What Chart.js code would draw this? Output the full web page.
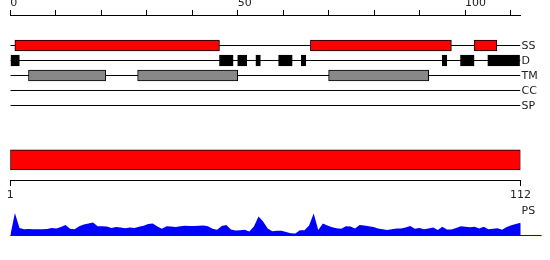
<!DOCTYPE html>
<html><head><meta charset="utf-8">
<script src="https://cdn.jsdelivr.net/npm/chart.js@4/dist/chart.umd.min.js"></script>
<style>html,body{margin:0;padding:0;background:#fff}canvas{display:block}</style>
</head><body>
<canvas id="c" width="550" height="260"></canvas>
<script>
// ---- data ----
const trackNames = ['SS', 'D', 'TM', 'CC', 'SP'];
const ssRegions = [[1, 46], [66, 97], [102, 107]];
const dRegions = [[0, 2], [46, 49], [50, 52], [54, 55], [59, 62], [64, 65], [95, 96], [99, 102], [105, 112]];
const tmRegions = [[4, 21], [28, 50], [70, 92]];
const ccRegions = [];
const spRegions = [];
const seqStart = 1;
const seqEnd = 112;
const topAxisMax = 112.2;
const topTickLabels = [0, 50, 100];
const bottomTickLabels = [1, 112];
const psLabel = 'PS';
const psValues = [
  0, 0.99, 0.33, 0.28, 0.29, 0.28, 0.28, 0.28, 0.29, 0.33,
  0.31, 0.37, 0.46, 0.30, 0.27, 0.41, 0.48, 0.53, 0.57, 0.41,
  0.41, 0.40, 0.33, 0.37, 0.35, 0.32, 0.35, 0.33, 0.38, 0.43,
  0.51, 0.53, 0.40, 0.30, 0.41, 0.40, 0.37, 0.41, 0.43, 0.42,
  0.42, 0.43, 0.44, 0.41, 0.30, 0.25, 0.42, 0.46, 0.26, 0.22,
  0.23, 0.25, 0.18, 0.40, 0.84, 0.62, 0.31, 0.19, 0.21, 0.21,
  0.15, 0.10, 0.09, 0.23, 0.23, 0.44, 0.97, 0.24, 0.53, 0.44,
  0.36, 0.32, 0.30, 0.41, 0.40, 0.31, 0.46, 0.44, 0.41, 0.37,
  0.31, 0.27, 0.24, 0.27, 0.31, 0.31, 0.35, 0.42, 0.30, 0.33,
  0.28, 0.31, 0.35, 0.24, 0.38, 0.26, 0.26, 0.33, 0.41, 0.38,
  0.36, 0.39, 0.31, 0.39, 0.27, 0.30, 0.32, 0.25, 0.37, 0.45,
  0.51, 0.56
];
const psBaselineEnd = 116.6;

// ---- layout / style constants ----
const FONT = "'DejaVu Sans', sans-serif";
const TEXT = '#222';
const ROW_MIN = -2.0333, ROW_MAX = 12.6667;
const SEQ_ROW = 7.63, SEQ_AXIS_ROW = 9, PS_LABEL_ROW = 11;
const PS_MAX = 9.71;
const trackStyles = {
  SS: {regions: ssRegions, color: '#ff0000'},
  D: {regions: dRegions, color: '#000000'},
  TM: {regions: tmRegions, color: '#888888'},
  CC: {regions: ccRegions, color: '#888888'},
  SP: {regions: spRegions, color: '#888888'}
};

const datasets = [];
trackNames.forEach((name, i) => {
  datasets.push({
    type: 'line', indexAxis: 'x', xAxisID: 'x', yAxisID: 'yRow',
    data: [{x: 0, y: i}, {x: topAxisMax, y: i}],
    borderColor: '#000', borderWidth: 1, pointRadius: 0, fill: false, order: 10
  });
  const st = trackStyles[name];
  if (st.regions.length) {
    datasets.push({
      type: 'bar', indexAxis: 'y', xAxisID: 'x', yAxisID: 'yRow',
      data: st.regions.map(r => ({x: r, y: i})),
      backgroundColor: st.color, borderColor: '#000', borderWidth: 1,
      borderSkipped: false, barThickness: 11, grouped: false, order: 1
    });
  }
});
datasets.push({
  type: 'bar', indexAxis: 'y', xAxisID: 'x2', yAxisID: 'yRow',
  data: [{x: [seqStart, seqEnd], y: SEQ_ROW}],
  backgroundColor: '#ff0000', borderColor: '#000', borderWidth: 1,
  borderSkipped: false, barThickness: 20, grouped: false, order: 1
});
datasets.push({
  type: 'line', indexAxis: 'x', xAxisID: 'x2', yAxisID: 'yPS',
  data: psValues.map((v, i) => ({x: seqStart + i, y: v})).concat([{x: seqEnd + 1, y: 0}]),
  fill: 'origin', backgroundColor: '#0000ff', borderColor: '#0000ff', borderWidth: 0,
  pointRadius: 0, tension: 0, clip: false, order: 5
});
datasets.push({
  type: 'line', indexAxis: 'x', xAxisID: 'x2', yAxisID: 'yPS',
  data: [{x: seqStart, y: 0}, {x: psBaselineEnd, y: 0}],
  borderColor: '#0000ff', borderWidth: 1, pointRadius: 0, fill: false, clip: false, order: 4
});

new Chart(document.getElementById('c'), {
  type: 'line',
  data: {datasets},
  options: {
    responsive: false, animation: false, events: [],
    devicePixelRatio: 1,
    layout: {padding: {left: 10.3, right: 0, top: 0, bottom: 24.5}},
    plugins: {legend: {display: false}, tooltip: {enabled: false}},
    scales: {
      x: {
        type: 'linear', position: 'top', min: 0, max: topAxisMax, offset: false,
        grid: {display: true, drawOnChartArea: false, drawTicks: true, tickLength: 5, color: '#000', lineWidth: 1, offset: false},
        border: {display: true, color: '#000', width: 1},
        ticks: {stepSize: 10, includeBounds: false, autoSkip: false, maxRotation: 0, align: 'start', padding: 0,
          color: TEXT, font: {family: FONT, size: 11},
          callback: v => topTickLabels.includes(v) ? String(v) : ''},
        afterFit: s => { s.height = 15; }
      },
      x2: {
        type: 'linear', axis: 'x', position: {yRow: SEQ_AXIS_ROW}, min: seqStart, max: seqEnd, offset: false,
        grid: {display: true, drawOnChartArea: false, drawTicks: true, tickLength: 5, color: '#000', lineWidth: 1, offset: false},
        border: {display: true, color: '#000', width: 1},
        ticks: {autoSkip: false, maxRotation: 0, padding: 3, color: TEXT, font: {family: FONT, size: 11},
          callback: v => String(v)},
        afterBuildTicks: s => { s.ticks = bottomTickLabels.map(v => ({value: v})); }
      },
      yRow: {
        type: 'linear', position: 'right', reverse: true, min: ROW_MIN, max: ROW_MAX, offset: false,
        grid: {display: false, drawTicks: false}, border: {display: false},
        ticks: {autoSkip: false, padding: 1, labelOffset: 1, color: TEXT, font: {family: FONT, size: 11},
          callback: v => (Number.isInteger(v) && v < trackNames.length) ? trackNames[v] : psLabel},
        afterBuildTicks: s => { s.ticks = trackNames.map((n, i) => ({value: i})).concat([{value: PS_LABEL_ROW}]); },
        afterFit: s => { s.width = 29.5; }
      },
      yPS: {type: 'linear', position: 'left', display: false, min: 0, max: PS_MAX}
    }
  }
});
</script>
</body></html>
